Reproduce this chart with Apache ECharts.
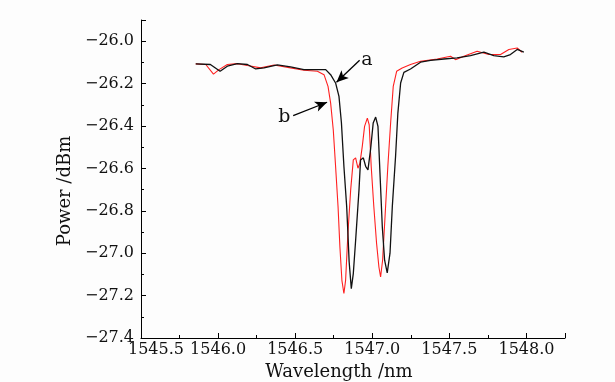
<!DOCTYPE html>
<html><head><meta charset="utf-8">
<script src="https://cdn.jsdelivr.net/npm/echarts@6/dist/echarts.min.js"></script>
<style>html,body{margin:0;padding:0;background:#fdfdfd}#c{width:615px;height:382px}</style>
</head><body><div id="c"></div>
<script>
// Curve a (black): wavelength (nm)
var waveA = [1545.855,1545.95,1546.013,1546.06,1546.125,1546.19,1546.244,1546.298,1546.384,1546.47,1546.557,1546.622,1546.698,1546.73,1546.762,1546.784,1546.8,1546.816,1546.834,1546.842,1546.85,1546.864,1546.877,1546.892,1546.914,1546.924,1546.942,1546.957,1546.972,1546.989,1547.006,1547.022,1547.037,1547.05,1547.065,1547.08,1547.097,1547.115,1547.13,1547.151,1547.166,1547.184,1547.205,1547.248,1547.313,1547.378,1547.464,1547.55,1547.637,1547.724,1547.788,1547.853,1547.896,1547.94,1547.983];
var powerA = [-26.107,-26.11,-26.142,-26.118,-26.106,-26.11,-26.131,-26.126,-26.112,-26.121,-26.134,-26.134,-26.134,-26.158,-26.197,-26.26,-26.386,-26.59,-26.78,-26.907,-27.04,-27.167,-27.096,-26.94,-26.70,-26.56,-26.55,-26.59,-26.607,-26.51,-26.386,-26.358,-26.402,-26.623,-26.875,-27.033,-27.093,-27.0,-26.78,-26.544,-26.339,-26.197,-26.147,-26.131,-26.099,-26.09,-26.084,-26.079,-26.068,-26.052,-26.068,-26.074,-26.063,-26.039,-26.052];
// Curve b (red)
var waveB = [1545.855,1545.92,1545.97,1546.006,1546.06,1546.125,1546.19,1546.276,1546.363,1546.47,1546.557,1546.644,1546.687,1546.713,1546.73,1546.747,1546.762,1546.778,1546.79,1546.803,1546.816,1546.827,1546.842,1546.86,1546.877,1546.892,1546.907,1546.92,1546.935,1546.95,1546.968,1546.98,1546.993,1547.01,1547.028,1547.043,1547.054,1547.067,1547.084,1547.101,1547.119,1547.136,1547.158,1547.194,1547.248,1547.313,1547.421,1547.508,1547.54,1547.594,1547.68,1547.756,1547.832,1547.886,1547.94,1547.972];
var powerB = [-26.107,-26.11,-26.155,-26.134,-26.11,-26.106,-26.115,-26.126,-26.112,-26.126,-26.137,-26.142,-26.158,-26.213,-26.292,-26.418,-26.59,-26.78,-26.97,-27.128,-27.19,-27.128,-26.907,-26.70,-26.56,-26.55,-26.599,-26.575,-26.497,-26.402,-26.363,-26.394,-26.59,-26.78,-26.954,-27.065,-27.112,-27.033,-26.812,-26.59,-26.386,-26.213,-26.142,-26.126,-26.11,-26.095,-26.084,-26.071,-26.087,-26.071,-26.047,-26.063,-26.063,-26.039,-26.032,-26.052];
// Annotations: [tailWave, tailPower, headWave, headPower]
var arrowA = [1546.918, -26.09, 1546.768, -26.194];
var arrowB = [1546.487, -26.351, 1546.707, -26.288];
var labelA = ['a', 1546.965, -26.087];
var labelB = ['b', 1546.43, -26.36];
// Axis settings
var xTicks = {min: 1545.5, max: 1548.25, interval: 0.5};
var yTicks = {min: -27.4, max: -25.9, interval: 0.2};

function zip(a, b) { return a.map(function (v, i) { return [v, b[i]]; }); }
var FONT = '"DejaVu Serif", "Liberation Serif", serif';
var chart = echarts.init(document.getElementById('c'));
var axisCommon = {
  axisLine: {show: true, lineStyle: {color: '#000', width: 1}},
  axisTick: {inside: true, length: 5, lineStyle: {color: '#000'}},
  minorTick: {show: true, splitNumber: 2, length: 3, lineStyle: {color: '#000'}},
  splitLine: {show: false}
};
chart.setOption({
  backgroundColor: '#fdfdfd',
  animation: false,
  textStyle: {fontFamily: FONT, fontSize: 16, color: '#111'},
  grid: {left: 141, right: 50, top: 20, bottom: 44, containLabel: false, outerBoundsMode: 'none'},
  xAxis: Object.assign({
    type: 'value', min: xTicks.min, max: xTicks.max, interval: xTicks.interval,
    name: 'Wavelength /nm', nameLocation: 'middle', nameGap: 25,
    nameTextStyle: {fontFamily: FONT, fontSize: 18, color: '#111', padding: [0, 28, 0, 0]},
    axisLabel: {
      showMaxLabel: false, margin: 4, fontFamily: FONT, fontSize: 16, color: '#111',
      formatter: function (v) { var s = v.toFixed(1); return v === xTicks.min ? '{f|' + s + '}' : s; },
      rich: {f: {fontFamily: FONT, fontSize: 16, color: '#111', padding: [0, 0, 0, 30]}}
    }
  }, axisCommon),
  yAxis: Object.assign({
    type: 'value', min: yTicks.min, max: yTicks.max, interval: yTicks.interval,
    name: 'Power /dBm', nameLocation: 'middle', nameGap: 55,
    nameTextStyle: {fontFamily: FONT, fontSize: 18, color: '#111', padding: [0, 24, 0, 0]},
    axisLabel: {
      showMaxLabel: false, margin: 7, fontFamily: FONT, fontSize: 16, color: '#111',
      formatter: function (v) { return v.toFixed(1).replace('-', '\u2212'); }
    }
  }, axisCommon),
  series: [
    {type: 'line', data: zip(waveB, powerB), showSymbol: false, lineStyle: {color: '#ff2020', width: 1.1}, z: 2},
    {type: 'line', data: zip(waveA, powerA), showSymbol: false, lineStyle: {color: '#111', width: 1.3}, z: 3,
      markLine: {
        silent: true, symbol: ['none', 'arrow'], symbolSize: [8, 12],
        lineStyle: {color: '#000', width: 1.3, type: 'solid'}, label: {show: false},
        data: [
          [{coord: [arrowA[0], arrowA[1]]}, {coord: [arrowA[2], arrowA[3]]}],
          [{coord: [arrowB[0], arrowB[1]]}, {coord: [arrowB[2], arrowB[3]]}]
        ]
      },
      markPoint: {
        silent: true, symbol: 'circle', symbolSize: 0,
        label: {show: true, position: 'inside', fontFamily: FONT, fontSize: 19, color: '#111', formatter: '{b}'},
        data: [
          {name: labelA[0], coord: [labelA[1], labelA[2]]},
          {name: labelB[0], coord: [labelB[1], labelB[2]]}
        ]
      }
    }
  ]
});
</script></body></html>
